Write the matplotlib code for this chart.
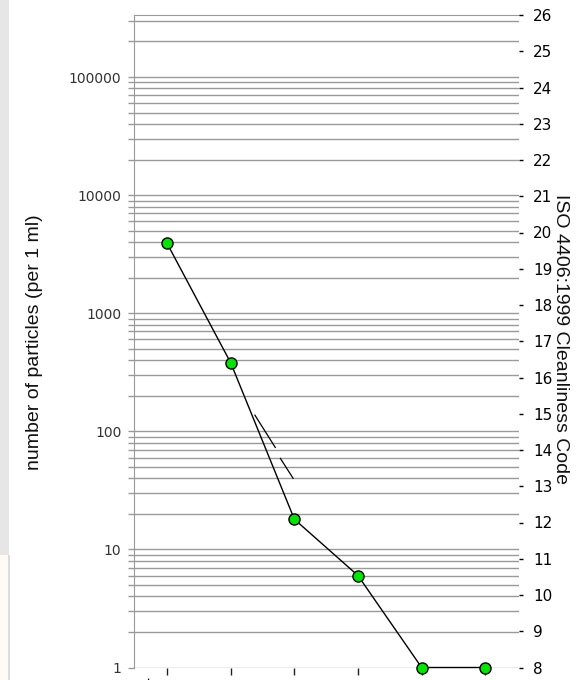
import numpy as np
import matplotlib
matplotlib.use("Agg")
import matplotlib.pyplot as plt
from matplotlib.patches import Rectangle
from matplotlib.transforms import ScaledTranslation
from matplotlib.ticker import LogLocator, NullFormatter, FixedLocator

# particle size channels (um(c)) and counts per 1 ml
sizes = ["4", "6", "14", "21", "38", "70"]
counts = [3900, 380, 18, 6, 1, 1]

# faint second trace visible next to the main line
trace_x = [1.38, 1.70, np.nan, 1.78, 1.98]
trace_y = [137, 73, np.nan, 59, 40]

# ISO 4406 code scale on the right
iso_codes = list(range(8, 27))
left_labels = ["1", "10", "100", "1000", "10000", "100000"]

fig = plt.figure(figsize=(5.88, 6.8), dpi=100)
fig.patch.set_facecolor("white")

# window edge strip on the left
fig.add_artist(Rectangle((0, 125 / 680), 9 / 588, 555 / 680, transform=fig.transFigure,
                         facecolor="#e6e6e6", edgecolor="none"))
fig.add_artist(Rectangle((0, 0), 8 / 588, 125 / 680, transform=fig.transFigure,
                         facecolor="#fffaf4", edgecolor="none"))
fig.add_artist(Rectangle((8 / 588, 0), 1.5 / 588, 125 / 680, transform=fig.transFigure,
                         facecolor="#dcdcdc", edgecolor="none"))

ax = fig.add_axes([134 / 588, 12.5 / 680, 385 / 588, 652.5 / 680])
grid_c = "#999999"

x = np.arange(len(sizes))
ax.plot(x, counts, color="black", lw=1.0, marker="o", markersize=8,
        markerfacecolor="#00e600", markeredgecolor="black", markeredgewidth=1.0,
        clip_on=False, zorder=5)
ax.plot(trace_x, trace_y, color="black", lw=0.9, zorder=4)

ax.set_yscale("log")
ax.set_ylim(1, 335000)
ax.set_xlim(-0.52, 5.53)

ax.yaxis.set_major_locator(FixedLocator([1, 10, 100, 1000, 10000, 100000]))
ax.set_yticklabels(left_labels)
ax.yaxis.set_minor_locator(LogLocator(base=10, subs=np.arange(2, 10), numticks=20))
ax.yaxis.set_minor_formatter(NullFormatter())
ax.grid(True, which="both", axis="y", color=grid_c, lw=1.0)
ax.set_axisbelow(True)

ax.tick_params(axis="y", which="both", direction="out", length=4, width=1,
               color=grid_c, pad=5, labelsize=10, labelcolor="#333333")
for lab in ax.get_yticklabels():
    lab.set_family("DejaVu Sans")

ax.set_xticks(x)
ax.set_xticklabels(sizes, rotation=90, fontsize=14, family="Liberation Sans")
ax.tick_params(axis="x", direction="out", length=5, width=1, color="#222222", pad=2)
for lab in ax.get_xticklabels():
    lab.set_transform(lab.get_transform() + ScaledTranslation(-19 / 100, 0, fig.dpi_scale_trans))

for side in ["right", "bottom"]:
    ax.spines[side].set_visible(False)
ax.spines["left"].set_color(grid_c)
ax.spines["top"].set_color(grid_c)

# right axis with ISO code
ax2 = ax.twinx()
ax2.set_ylim(8, 26)
ax2.set_yticks(iso_codes)
ax2.tick_params(axis="y", direction="out", length=3, width=1, color="black",
                pad=7, labelsize=11, labelcolor="black")
for s in ax2.spines.values():
    s.set_visible(False)

fig.text(35 / 588, 1 - 342 / 680, "number of particles (per 1 ml)", rotation=90,
         ha="center", va="center", fontsize=14, family="Liberation Sans", color="#111111")
fig.text(561 / 588, 1 - 339 / 680, "ISO 4406:1999 Cleanliness Code", rotation=270,
         ha="center", va="center", fontsize=14, family="Liberation Sans", color="#111111")

fig.savefig("out.png", dpi=100)
